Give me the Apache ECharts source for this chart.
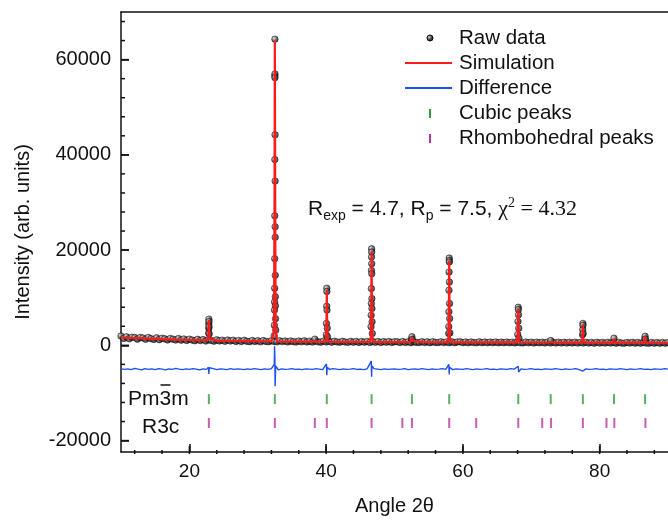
<!DOCTYPE html>
<html>
<head>
<meta charset="utf-8">
<script src="https://cdn.jsdelivr.net/npm/echarts@6/dist/echarts.min.js"></script>
<style>
html,body{margin:0;padding:0;background:#fff;}
#chart{width:668px;height:521px;}
</style>
</head>
<body>
<div id="chart"></div>
<script>
// ---------- axis ranges & ticks ----------
const xMin = 10, xMax = 90;
const yMin = -22400, yMax = 70000;
const xTickLabels = [20, 40, 60, 80];
const xMinorTicks = [12, 16, 24, 28, 32, 36, 44, 48, 52, 56, 64, 68, 72, 76, 84, 88];
const yTickLabels = [-20000, 0, 20000, 40000, 60000];
const yMinorTicks = [-16000, -12000, -8000, -4000, 4000, 8000, 12000, 16000, 24000, 28000, 32000, 36000, 44000, 48000, 52000, 56000, 64000, 68000];

// ---------- raw data (black dots) ----------
const rawStart = 10, rawStep = 0.4;
const rawBackground = [
  1950, 1450, 1800, 1380, 1720, 1650, 1300, 1640, 1560, 1270, 1660, 1400, 1250, 1580, 1190, 1500, 1360, 1140, 1460, 1290, 1120,
  1420, 1080, 1330, 1020, 1300, 1100, 950, 1270, 1010, 1200, 900, 1160, 1020, 880, 1150, 930, 1090, 840, 1120, 910,
  1080, 820, 1040, 790, 1070, 840, 770, 1010, 800, 980, 740, 1000, 820, 760, 970, 800, 730, 950, 780, 920,
  720, 930, 760, 690, 900, 730, 950, 700, 880, 680, 910, 740, 670, 890, 720, 870, 660, 860, 710, 650,
  850, 690, 630, 840, 660, 820, 620, 810, 650, 830, 610, 790, 640, 800, 590, 780, 630, 810, 600, 770,
  740, 590, 790, 600, 750, 560, 760, 620, 580, 770, 590, 740, 550, 750, 600, 570, 740, 580, 720, 560,
  730, 550, 700, 750, 560, 710, 530, 720, 570, 540, 730, 560, 700, 530, 690, 550, 710, 520, 680, 540,
  700, 530, 670, 510, 690, 540, 500, 680, 530, 660, 490, 670, 520, 650, 500, 680, 510, 640, 490, 660,
  510, 650, 480, 640, 500, 660, 470, 630, 490, 650, 480, 620, 460, 640, 490, 610, 470, 630, 480, 610,
  460, 620, 480, 450, 610, 470, 630, 460, 600, 440, 610, 470, 450, 600, 460, 590, 440, 600, 460, 580
];
const rawPeakDots = [
  [22.82, 2600], [22.83, 3600], [22.84, 4500], [22.85, 5500], [22.87, 5000], [22.88, 3900], [22.9, 2400],
  [32.4, 2000], [32.43, 4200], [32.45, 7400], [32.46, 9100], [32.47, 12000], [32.48, 18200], [32.49, 27200],
  [32.5, 39000], [32.5, 56600], [32.51, 64300], [32.52, 57000], [32.52, 56200], [32.53, 44200], [32.54, 34500],
  [32.54, 24900], [32.55, 22700], [32.56, 14700], [32.57, 10200], [32.58, 8300], [32.6, 5600], [32.63, 3200],
  [38.35, 1300],
  [40.02, 2200], [40.05, 4600], [40.08, 8200], [40.1, 12000], [40.11, 11300], [40.13, 7400], [40.16, 3600], [40.2, 1800],
  [46.57, 3900], [46.59, 6330], [46.61, 8780], [46.62, 11910], [46.63, 15740], [46.64, 18530], [46.65, 20270],
  [46.66, 19580], [46.67, 17140], [46.68, 15050], [46.69, 9820], [46.7, 7730], [46.72, 4950], [46.75, 2500],
  [52.5, 1300], [52.55, 1800], [52.6, 1200],
  [57.92, 2500], [57.94, 3900], [57.96, 7040], [57.97, 11560], [57.98, 15400], [58.0, 18330], [58.01, 17830],
  [58.02, 17490], [58.03, 13310], [58.05, 8780], [58.07, 5640], [58.1, 2600],
  [68.03, 2300], [68.06, 5000], [68.1, 8000], [68.12, 7500], [68.14, 6400], [68.17, 3600], [68.2, 1500],
  [72.85, 1000],
  [77.5, 2200], [77.53, 3300], [77.55, 4600], [77.57, 4200], [77.6, 2500],
  [82.1, 1500],
  [86.6, 1400], [86.65, 1900], [86.7, 1300]
];

// ---------- simulation (red line) ----------
const simBackground = [
  [10, 1650], [12, 1520], [14, 1400], [16, 1300], [18, 1210], [20, 1130], [22, 1060], [24, 1000], [26, 950],
  [28, 910], [30, 870], [32, 840], [34, 810], [36, 790], [38, 770], [40, 750], [42, 735], [44, 720], [46, 705],
  [48, 690], [50, 680], [52, 670], [54, 660], [56, 650], [58, 640], [60, 632], [62, 625], [64, 618], [66, 610],
  [68, 604], [70, 598], [72, 592], [74, 586], [76, 580], [78, 575], [80, 570], [82, 565], [84, 560], [86, 555],
  [88, 550], [90, 545]
];
const simPeakCenters = [22.85, 32.5, 38.35, 40.1, 46.65, 52.55, 58.0, 68.1, 72.85, 77.55, 82.1, 86.65];
const simPeaks = [
  [22.6, 1070], [22.75, 1500], [22.81, 3000], [22.85, 5300], [22.89, 3000], [22.95, 1400], [23.1, 1050],
  [32.2, 850], [32.38, 3000], [32.45, 30000], [32.5, 64000], [32.55, 30000], [32.62, 3500], [32.8, 840],
  [38.2, 770], [38.35, 1000], [38.5, 770],
  [39.85, 755], [40.0, 1600], [40.06, 6000], [40.1, 11600], [40.14, 6000], [40.2, 1500], [40.35, 750],
  [46.4, 708], [46.55, 2000], [46.61, 10000], [46.65, 19700], [46.69, 10000], [46.75, 1900], [46.9, 703],
  [52.35, 668], [52.5, 1000], [52.55, 1700], [52.6, 1000], [52.75, 666],
  [57.75, 641], [57.9, 1800], [57.96, 9000], [58.0, 17800], [58.04, 9000], [58.1, 1700], [58.25, 639],
  [67.85, 605], [68.0, 1300], [68.06, 4200], [68.1, 7800], [68.14, 4200], [68.2, 1200], [68.35, 603],
  [72.7, 591], [72.85, 900], [73.0, 590],
  [77.35, 576], [77.48, 1100], [77.55, 4400], [77.62, 1100], [77.75, 574],
  [81.95, 566], [82.1, 1400], [82.25, 565],
  [86.5, 556], [86.65, 1800], [86.8, 555]
];

// ---------- difference (blue line) ----------
const diffStart = 10, diffStep = 0.5;
const diffBase = [
  -4900, -5050, -4950, -5100, -4850, -5000, -5150, -4900, -5050, -4950,
  -5100, -4900, -5000, -5150, -4950, -5050, -4850, -5000, -5100, -4950,
  -5050, -4900, -5000, -5150, -4950, -5050, -5000, -4900, -5100, -4950,
  -5000, -5100, -4900, -5050, -4950, -5000, -5100, -4950, -5050, -4900,
  -5000, -5100, -4950, -5050, -4900, -5000, -5150, -4950, -5050, -5000,
  -4900, -5050, -5000, -5100, -4950, -5000, -5050, -4900, -5000, -5100,
  -4950, -5050, -4900, -5000, -5100, -4950, -5050, -5000, -4900, -5050,
  -5000, -5100, -4950, -5050, -4900, -5000, -5100, -4950, -5050, -5000,
  -4950, -5050, -5000, -4900, -5100, -5000, -4950, -5050, -4900, -5000,
  -5100, -4950, -5050, -5000, -4900, -5050, -5000, -5100, -4950, -5000,
  -5050, -4900, -5000, -5100, -4950, -5050, -5000, -4900, -5050, -5000,
  -5100, -4950, -5000, -5050, -4900, -5000, -5100, -4950, -5050, -5000,
  -4900, -5050, -5000, -5100, -4950, -5000, -5050, -4900, -5000, -5100,
  -4950, -5050, -5000, -4900, -5100, -5000, -4950, -5050, -5000, -4900,
  -5050, -5000, -5100, -4950, -5000, -5050, -4900, -5000, -5100, -4950,
  -5050, -5000, -4900, -5050, -5000, -5100, -4950, -5000, -5050, -4900,
  -5000
];
const diffSpikes = [
  [22.8, -4600], [22.85, -6000], [22.9, -4700],
  [32.42, -4000], [32.46, -200], [32.5, -2500], [32.54, -8600], [32.58, -6500], [32.62, -4300],
  [40.05, -3900], [40.1, -6300], [40.15, -4600],
  [46.6, -3300], [46.65, -6600], [46.7, -4300],
  [57.95, -4000], [58.0, -6100], [58.05, -4600],
  [68.1, -4400], [68.15, -5600],
  [77.55, -5400]
];

// ---------- Bragg peak positions ----------
const cubicPeaks = [22.85, 32.5, 40.1, 46.65, 52.55, 58.0, 68.1, 72.85, 77.55, 82.1, 86.65];
const rhomboPeaks = [22.85, 32.5, 38.35, 40.1, 46.65, 51.15, 52.55, 58.0, 61.95, 68.1, 71.6, 72.9, 77.55, 81.0, 82.15, 86.7];
const cubicLevel = -11300, rhomboLevel = -16300;

// ---------- build ----------
const withAngles = (start, step, vals) => vals.map((v, i) => [+(start + step * i).toFixed(2), v]);
const rawData = withAngles(rawStart, rawStep, rawBackground).concat(rawPeakDots);
const simData = simBackground
  .filter(p => !simPeakCenters.some(c => Math.abs(p[0] - c) < 0.45))
  .concat(simPeaks).sort((a, b) => a[0] - b[0]);
const diffData = withAngles(diffStart, diffStep, diffBase)
  .filter(p => !diffSpikes.some(s => Math.abs(p[0] - s[0]) < 0.12))
  .concat(diffSpikes).sort((a, b) => a[0] - b[0]);

const RED = '#ff1a1a', BLUE = '#1d4ef0', GREEN = '#2e9e3e', PURPLE = '#b8379f';
const FONT = 'Liberation Sans, Arial, sans-serif';
const SERIF = 'Liberation Serif, Times New Roman, serif';
const AX = '#111';

// plot frame (pixels)
const gL = 121, gR = 669, gT = 12, gB = 454;

const ballFill = new echarts.graphic.RadialGradient(0.35, 0.35, 0.75, [
  { offset: 0, color: '#e0e0e0' }, { offset: 0.45, color: '#555' }, { offset: 1, color: '#0a0a0a' }
]);
const plain = v => String(v);

const staticGraphics = [
  { type: 'circle', z: 10, shape: { cx: 430, cy: 38, r: 3 }, style: { fill: ballFill, stroke: '#000', lineWidth: 0.6 } },
  { type: 'line', z: 10, shape: { x1: 405, y1: 63, x2: 452, y2: 63 }, style: { stroke: RED, lineWidth: 2 } },
  { type: 'line', z: 10, shape: { x1: 405, y1: 88, x2: 452, y2: 88 }, style: { stroke: BLUE, lineWidth: 2 } },
  { type: 'rect', z: 10, shape: { x: 429, y: 109, width: 2, height: 9 }, style: { fill: GREEN } },
  { type: 'rect', z: 10, shape: { x: 429, y: 134, width: 2, height: 9 }, style: { fill: PURPLE } },
  { type: 'text', z: 10, x: 459, y: 38, style: { text: 'Raw data', font: '20.5px ' + FONT, fill: AX, verticalAlign: 'middle' } },
  { type: 'text', z: 10, x: 459, y: 63, style: { text: 'Simulation', font: '20.5px ' + FONT, fill: AX, verticalAlign: 'middle' } },
  { type: 'text', z: 10, x: 459, y: 88, style: { text: 'Difference', font: '20.5px ' + FONT, fill: AX, verticalAlign: 'middle' } },
  { type: 'text', z: 10, x: 459, y: 113, style: { text: 'Cubic peaks', font: '20.5px ' + FONT, fill: AX, verticalAlign: 'middle' } },
  { type: 'text', z: 10, x: 459, y: 138, style: { text: 'Rhombohedral peaks', font: '20.5px ' + FONT, fill: AX, verticalAlign: 'middle' } },
  {
    type: 'text', z: 10, x: 308, y: 209,
    style: {
      text: '{n|R}{sub|exp}{n| = 4.7, R}{sub|p}{n| = 7.5, }{g|χ}{sup|2}{t| = 4.32}',
      verticalAlign: 'middle', fill: AX,
      rich: {
        n: { fontFamily: FONT, fontSize: 21, lineHeight: 30, fill: AX },
        sub: { fontFamily: FONT, fontSize: 14, lineHeight: 14, padding: [14, 0, 0, 0], fill: AX },
        sup: { fontFamily: SERIF, fontSize: 14, lineHeight: 14, padding: [0, 0, 12, 0], fill: AX },
        g: { fontFamily: SERIF, fontSize: 22, lineHeight: 30, fill: AX },
        t: { fontFamily: SERIF, fontSize: 22, lineHeight: 30, fill: AX }
      }
    }
  },
  { type: 'text', z: 10, x: 128, y: 399, style: { text: 'Pm3m', font: '21px ' + FONT, fill: AX, verticalAlign: 'middle' } },
  { type: 'line', z: 10, shape: { x1: 160.5, y1: 385, x2: 170.5, y2: 385 }, style: { stroke: AX, lineWidth: 1.5 } },
  { type: 'text', z: 10, x: 142, y: 427, style: { text: 'R3c', font: '21px ' + FONT, fill: AX, verticalAlign: 'middle' } }
];

const chart = echarts.init(document.getElementById('chart'), null, { renderer: 'canvas' });
chart.setOption({
  animation: false,
  backgroundColor: '#fff',
  grid: { left: gL, right: 668 - gR, top: gT, bottom: 521 - gB, show: false },
  xAxis: [{
    type: 'value', min: xMin, max: xMax, position: 'bottom',
    name: 'Angle 2θ', nameLocation: 'middle', nameGap: 44,
    nameTextStyle: { fontFamily: FONT, fontSize: 20, color: AX },
    axisLine: { show: true, onZero: false, lineStyle: { color: AX, width: 1.5 } },
    axisTick: { show: true, inside: true, length: 8, customValues: xTickLabels, lineStyle: { color: AX, width: 1.5 } },
    axisLabel: { show: true, customValues: xTickLabels, formatter: plain, margin: 10, fontFamily: FONT, fontSize: 19, color: AX },
    splitLine: { show: false }
  }, {
    type: 'value', min: xMin, max: xMax, position: 'top',
    axisLine: { show: true, onZero: false, lineStyle: { color: AX, width: 1.5 } },
    axisTick: { show: false }, axisLabel: { show: false }, splitLine: { show: false }
  }],
  yAxis: [{
    type: 'value', min: yMin, max: yMax, position: 'left',
    name: 'Intensity (arb. units)', nameLocation: 'middle', nameGap: 88,
    nameTextStyle: { fontFamily: FONT, fontSize: 20, color: AX },
    axisLine: { show: true, onZero: false, lineStyle: { color: AX, width: 1.5 } },
    axisTick: { show: true, inside: true, length: 8, customValues: yTickLabels, lineStyle: { color: AX, width: 1.5 } },
    axisLabel: { show: true, customValues: yTickLabels, formatter: plain, margin: 10, fontFamily: FONT, fontSize: 20, color: AX },
    splitLine: { show: false }
  }],
  series: [
    {
      name: 'Raw data', type: 'scatter', data: rawData, symbol: 'circle', symbolSize: 6.5,
      itemStyle: { color: ballFill, borderColor: '#000', borderWidth: 0.6 }, z: 2, silent: true
    },
    {
      name: 'Simulation', type: 'line', data: simData, showSymbol: false, symbol: 'none',
      lineStyle: { color: RED, width: 2.2 }, z: 3, silent: true
    },
    {
      name: 'Difference', type: 'line', data: diffData, showSymbol: false, symbol: 'none',
      lineStyle: { color: BLUE, width: 1.4 }, z: 3, silent: true
    },
    {
      name: 'Cubic peaks', type: 'scatter', data: cubicPeaks.map(a => [a, cubicLevel]),
      symbol: 'rect', symbolSize: [2, 10], itemStyle: { color: GREEN }, z: 3, silent: true
    },
    {
      name: 'Rhombohedral peaks', type: 'scatter', data: rhomboPeaks.map(a => [a, rhomboLevel]),
      symbol: 'rect', symbolSize: [2, 10], itemStyle: { color: PURPLE }, z: 3, silent: true
    }
  ],
  graphic: staticGraphics
});

// Inward minor/major axis ticks, placed through the chart's coordinate conversion (with linear fallback).
const toPx = (x, y) => {
  let p = null;
  try { p = chart.convertToPixel({ xAxisIndex: 0, yAxisIndex: 0 }, [x, y]); } catch (e) { p = null; }
  if (!p || !isFinite(p[0]) || !isFinite(p[1])) {
    p = [gL + (x - xMin) / (xMax - xMin) * (gR - gL), gT + (yMax - y) / (yMax - yMin) * (gB - gT)];
  }
  return p;
};
const tickEls = [];
const addXTick = (v, len) => {
  const p = toPx(v, yMin);
  tickEls.push({ type: 'line', z: 20, silent: true, shape: { x1: p[0], y1: gB, x2: p[0], y2: gB - len }, style: { stroke: AX, lineWidth: 1.5 } });
};
const addYTick = (v, len) => {
  const p = toPx(xMin, v);
  tickEls.push({ type: 'line', z: 20, silent: true, shape: { x1: gL, y1: p[1], x2: gL + len, y2: p[1] }, style: { stroke: AX, lineWidth: 1.5 } });
};
xTickLabels.forEach(v => addXTick(v, 8));
xMinorTicks.forEach(v => addXTick(v, 4));
yTickLabels.forEach(v => addYTick(v, 8));
yMinorTicks.forEach(v => addYTick(v, 4));
chart.setOption({ graphic: staticGraphics.concat(tickEls) });
</script>
</body>
</html>
